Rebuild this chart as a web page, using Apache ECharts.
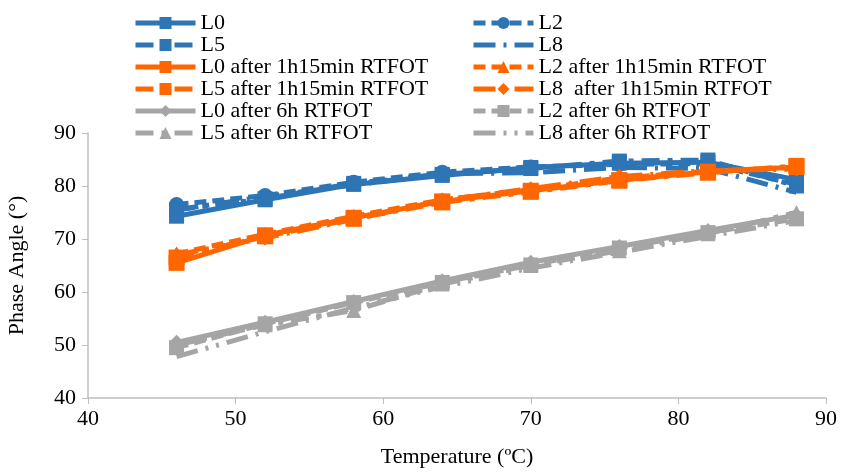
<!DOCTYPE html>
<html>
<head>
<meta charset="utf-8">
<script src="https://cdn.jsdelivr.net/npm/echarts@6/dist/echarts.min.js"></script>
<style>
  html, body { margin: 0; padding: 0; background: #fff; }
  #chart { width: 841px; height: 472px; }
</style>
</head>
<body>
<div id="chart"></div>
<script>
// temperatures (ºC)
const temps = [46, 52, 58, 64, 70, 76, 82, 88];

// phase angle (°), unaged
const l0 = [74.3, 77.4, 80.3, 82.0, 83.5, 84.3, 84.5, 81.2];
const l2 = [76.5, 78.2, 80.7, 82.6, 83.6, 84.1, 84.2, 80.3];
const l5 = [75.5, 77.6, 80.5, 82.2, 83.3, 84.7, 84.9, 80.0];
const l8 = [75.5, 78.0, 80.2, 82.3, 82.5, 83.5, 83.3, 78.8];

// after 1h15min RTFOT
const l0Short = [65.5, 70.7, 74.0, 77.1, 79.1, 81.1, 82.7, 83.6];
const l2Short = [67.2, 70.9, 74.3, 77.4, 79.3, 81.5, 82.8, 83.5];
const l5Short = [66.5, 70.5, 73.8, 76.9, 78.9, 81.0, 82.5, 83.8];
const l8Short = [67.0, 70.2, 73.7, 77.3, 79.5, 81.8, 82.9, 83.2];

// after 6h RTFOT
const l0Long = [50.5, 54.3, 58.2, 62.1, 65.6, 68.6, 71.6, 74.5];
const l2Long = [49.5, 54.0, 58.0, 61.8, 65.1, 68.3, 71.2, 73.8];
const l5Long = [50.0, 53.8, 56.5, 61.5, 65.0, 67.8, 71.0, 75.0];
const l8Long = [47.8, 52.5, 57.0, 61.0, 64.5, 67.5, 70.5, 73.5];

const BLUE = '#2e75b6';
const ORANGE = '#ff6600';
const GRAY = '#a5a5a5';
const FONT = '"Liberation Serif", "Times New Roman", serif';

const pairs = (ys) => temps.map((t, i) => [t, ys[i]]);

// dash patterns
const SOLID = 'solid';
const DASH = [12, 6];
const DASH_DOT = [18, 8, 5, 8];
const LONG_DASH_DOT = [22, 8, 3, 8];
const LONG_DASH_DOT_DOT = [22, 8, 3, 8, 3, 8];

function line(name, data, color, type, symbol, size) {
  return {
    name,
    type: 'line',
    data: pairs(data),
    symbol: symbol || 'none',
    symbolSize: size || 15,
    showSymbol: !!symbol,
    lineStyle: { color, width: 5, type },
    itemStyle: { color },
    emphasis: { disabled: true },
    animation: false
  };
}

const series = [
  line('L0', l0, BLUE, SOLID, 'rect', 15),
  line('L2', l2, BLUE, DASH, 'circle', 15),
  line('L5', l5, BLUE, DASH_DOT, 'rect', 15),
  line('L8', l8, BLUE, LONG_DASH_DOT),
  line('L0 after 1h15min RTFOT', l0Short, ORANGE, SOLID, 'rect', 16),
  line('L2 after 1h15min RTFOT', l2Short, ORANGE, DASH, 'triangle', 15),
  line('L5 after 1h15min RTFOT', l5Short, ORANGE, DASH_DOT, 'rect', 16),
  line('L8  after 1h15min RTFOT', l8Short, ORANGE, LONG_DASH_DOT, 'diamond', 15),
  line('L0 after 6h RTFOT', l0Long, GRAY, SOLID, 'diamond', 15),
  line('L2 after 6h RTFOT', l2Long, GRAY, DASH, 'rect', 15),
  line('L5 after 6h RTFOT', l5Long, GRAY, DASH_DOT, 'triangle', 15),
  line('L8 after 6h RTFOT', l8Long, GRAY, LONG_DASH_DOT_DOT)
];

// legend entries: markerless series get a hidden symbol
const legendItems = series.map(s =>
  s.showSymbol ? { name: s.name } : { name: s.name, itemStyle: { opacity: 0 } }
);
const legendBase = {
  orient: 'vertical',
  top: 7,
  itemWidth: 60,
  itemHeight: 15,
  itemGap: 0,
  selectedMode: false,
  lineStyle: { width: 5 },
  textStyle: { fontFamily: FONT, fontSize: 22, color: '#000', lineHeight: 20 }
};

const chart = echarts.init(document.getElementById('chart'), null, { renderer: 'canvas' });
chart.setOption({
  backgroundColor: '#fff',
  animation: false,
  legend: [
    Object.assign({}, legendBase, { left: 128, data: legendItems.filter((n, i) => i % 2 === 0) }),
    Object.assign({}, legendBase, { left: 466, data: legendItems.filter((n, i) => i % 2 === 1) })
  ],
  grid: { left: 88, right: 15, top: 133, bottom: 74, outerBoundsMode: 'none' },
  xAxis: {
    type: 'value',
    min: 40,
    max: 90,
    interval: 10,
    name: 'Temperature (ºC)',
    nameLocation: 'middle',
    nameGap: 48,
    nameTextStyle: { fontFamily: FONT, fontSize: 22, color: '#000' },
    axisLine: { lineStyle: { color: '#bfbfbf', width: 1.5 } },
    axisTick: { show: true, length: 6, lineStyle: { color: '#bfbfbf' } },
    axisLabel: { fontFamily: FONT, fontSize: 22, color: '#000', margin: 10 },
    splitLine: { show: false }
  },
  yAxis: {
    type: 'value',
    min: 40,
    max: 90,
    interval: 10,
    name: 'Phase Angle (°)',
    nameLocation: 'middle',
    nameGap: 60,
    nameTextStyle: { fontFamily: FONT, fontSize: 22, color: '#000' },
    axisLine: { show: true, lineStyle: { color: '#bfbfbf', width: 1.5 } },
    axisTick: { show: true, length: 6, lineStyle: { color: '#bfbfbf' } },
    axisLabel: { fontFamily: FONT, fontSize: 22, color: '#000', margin: 12 },
    splitLine: { show: false }
  },
  series
});
</script>
</body>
</html>
